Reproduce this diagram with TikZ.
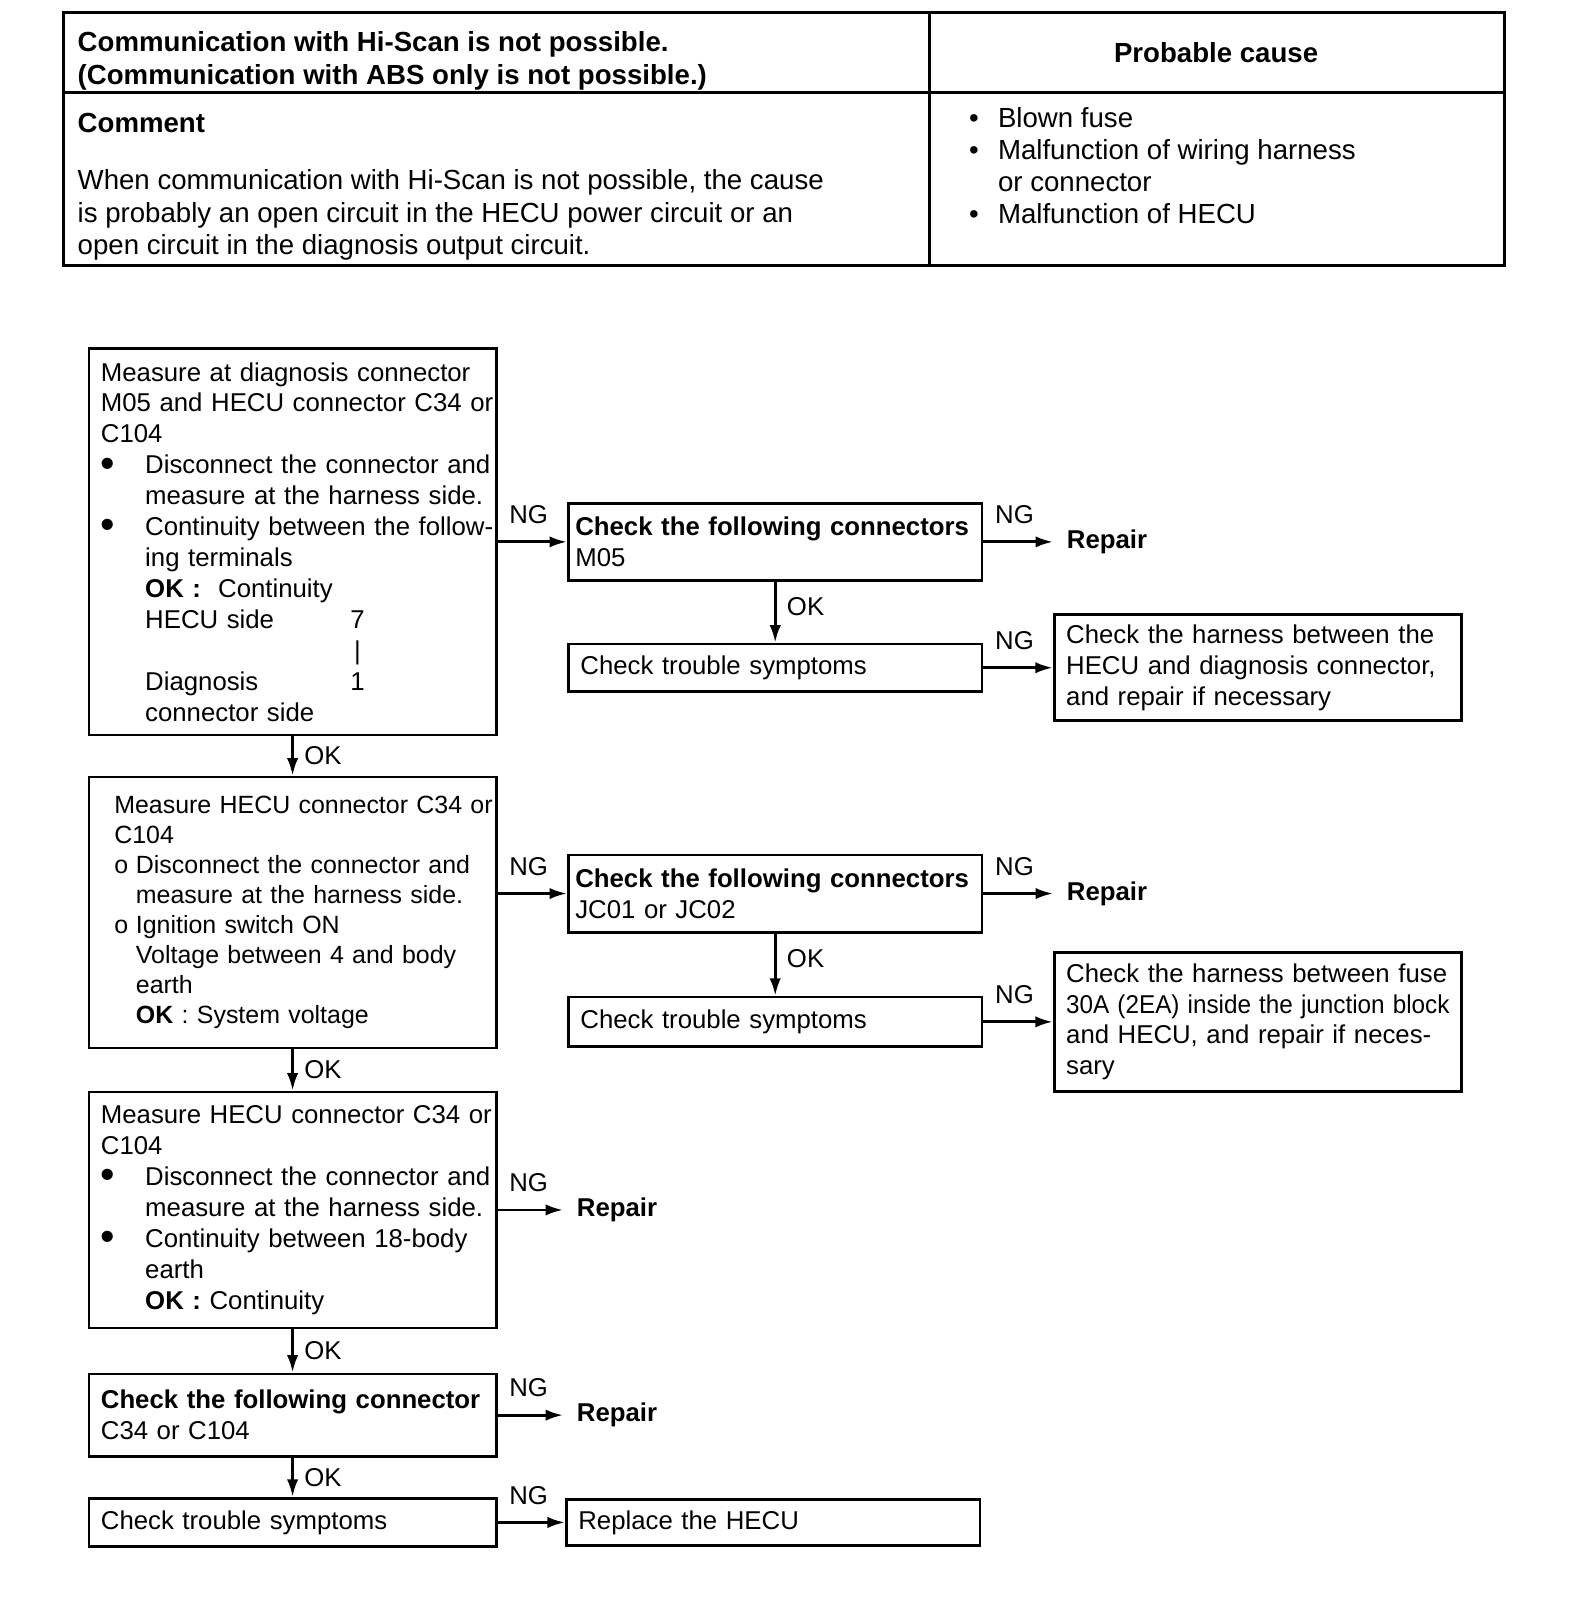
\documentclass[tikz,border=0pt]{standalone}
\usepackage{fontspec}
\setmainfont{Liberation Sans}
\usetikzlibrary{arrows.meta,positioning}

\newcommand{\flowfont}{\fontsize{12.5pt}{15pt}\selectfont}
\newcommand{\smallflow}{\fontsize{12.1pt}{14.6pt}\selectfont}
\newcommand{\tabfont}{\fontsize{13.4pt}{15.6pt}\selectfont}
\newlength{\bind}\setlength{\bind}{21.5pt}
\newcommand{\bigdot}{\raisebox{-1.6pt}{\smash{\scalebox{1.6}{\textbullet}}}}
\newcommand{\jl}[1]{\makebox[\linewidth][s]{#1}}
\newcommand{\ind}[1]{\hspace*{\bind}#1}
\newcommand{\bjl}[1]{\makebox[\bind][l]{\bigdot}\makebox[\dimexpr\linewidth-\bind\relax][s]{#1}}
\newcommand{\fitto}[2]{\resizebox{#1}{\height}{#2}}

\begin{document}
\begin{tikzpicture}[x=0.5pt,y=-0.5pt,
        every node/.style={font=\flowfont},
        box/.style={draw,line width=1.3pt,rectangle,align=left,inner ysep=0pt},
        lbox/.style={box,inner xsep=5.8pt,text width=186pt,minimum height=#1},
        mbox/.style={box,inner xsep=3.35pt,text width=194pt,minimum height=#1},
        tbox/.style={box,inner xsep=5.85pt,text width=189pt,minimum height=#1},
        rep/.style={font=\flowfont\bfseries,inner xsep=6.5pt},
        flow/.style={-{Latex[length=8.5pt,width=5.5pt]},line width=1.4pt},
        ng/.style={pos=0,anchor=south west,inner sep=0pt,xshift=5pt,yshift=8pt},
        ok/.style={midway,anchor=west,inner sep=1pt,xshift=4pt},
        tabtext/.style={font=\tabfont,align=left,inner sep=0pt}]

        % table at the top
        \draw[line width=1.4pt] (62,12) rectangle (1460,258);
        \draw[line width=1.4pt] (902,12) -- (902,258) (62,90) -- (1460,90);
        \node[tabtext,font=\tabfont\bfseries,anchor=north west] (title) at (75,30.5)
            {Communication with Hi-Scan is not possible.\\(Communication with ABS only is not possible.)};
        \node[tabtext,font=\tabfont\bfseries,anchor=north] (cause) at (1180,40.5) {Probable cause};
        \node[tabtext,font=\tabfont\bfseries,anchor=north west] (comment) at (75,109.5) {Comment};
        \node[tabtext,anchor=north west] (para) at (75,164.5)
            {When communication with Hi-Scan is not possible, the cause\\
             is probably an open circuit in the HECU power circuit or an\\
             open circuit in the diagnosis output circuit.};
        \node[tabtext,anchor=north west] (causes) at (940,103.5)
            {\makebox[14pt][l]{\textbullet}Blown fuse\\
             \makebox[14pt][l]{\textbullet}Malfunction of wiring harness\\
             \hspace*{14pt}or connector\\
             \makebox[14pt][l]{\textbullet}Malfunction of HECU};

        % flow chart
        \node[lbox=187.5pt,anchor=north west] (meas1) at (85,337)
            {\jl{Measure at diagnosis connector}\\
             \jl{M05 and HECU connector C34 or}\\
             C104\\
             \bjl{Disconnect the connector and}\\
             \ind{measure at the harness side.}\\
             \bjl{Continuity between the follow-}\\
             \ind{ing terminals}\\
             \ind{\textbf{OK :}\ \ Continuity}\\
             \ind{\makebox[99.5pt][l]{HECU side}7}\\
             \ind{\hspace*{99.5pt}\makebox[6.95pt]{|}}\\
             \ind{\makebox[99.5pt][l]{Diagnosis}1}\\
             \ind{connector side}};
        \node[mbox=37.5pt] (conn1) [right=33.7pt of meas1]
            {\textbf{Check the following connectors}\\M05};
        \node[tbox=23pt] (sym1) [below=29.5pt of conn1] {Check trouble symptoms};
        \node[lbox=51.5pt] (harn1) [right=33.7pt of sym1]
            {\jl{Check the harness between the}\\
             \jl{HECU and diagnosis connector,}\\
             and repair if necessary};
        \node[rep] (rep1) [right=33.8pt of conn1] {Repair};

        \node[box,inner xsep=12.3pt,text width=173pt,minimum height=131.5pt,font=\smallflow] (meas2) [below=19pt of meas1]
            {\mbox{Measure HECU connector C34 or}\\
             C104\\
             \makebox[10.5pt][l]{o}Disconnect the connector and\\
             \hspace*{10.5pt}measure at the harness side.\\
             \makebox[10.5pt][l]{o}Ignition switch ON\\
             \hspace*{10.5pt}Voltage between 4 and body\\
             \hspace*{10.5pt}earth\\
             \hspace*{10.5pt}\textbf{OK} : System voltage};
        \node[mbox=37.5pt] (conn2) [below=78pt of sym1]
            {\textbf{Check the following connectors}\\JC01 or JC02};
        \node[tbox=24pt] (sym2) [below=30.2pt of conn2] {Check trouble symptoms};
        \node[lbox=67.5pt] (harn2) [right=33.7pt of sym2]
            {\jl{Check the harness between fuse}\\
             \fitto{\linewidth}{30A (2EA) inside the junction block}\\
             \jl{and HECU, and repair if neces-}\\
             sary};
        \node[rep] (rep2) [right=33.8pt of conn2] {Repair};

        \node[lbox=114.5pt] (meas3) [below=20pt of meas2]
            {\jl{Measure HECU connector C34 or}\\
             C104\\
             \bjl{Disconnect the connector and}\\
             \ind{measure at the harness side.}\\
             \bjl{Continuity between 18-body}\\
             \ind{earth}\\
             \ind{\textbf{OK :} Continuity}};
        \node[rep] (rep3) [right=31.8pt of meas3] {Repair};
        \node[lbox=40pt] (conn3) [below=21pt of meas3]
            {\textbf{Check the following connector}\\C34 or C104};
        \node[rep] (rep4) [right=31.8pt of conn3] {Repair};
        \node[lbox=23.5pt] (sym3) [below=19pt of conn3] {Check trouble symptoms};
        \node[tbox=22.5pt] (hecu) [right=32.7pt of sym3] {Replace the HECU};

        % connectors
        \draw[flow] (meas1.east |- conn1) -- node[ng] {NG} (conn1);
        \draw[flow] (conn1) -- node[ng] {NG} (rep1);
        \draw[flow] (conn1) -- node[ok,pos=0.4] {OK} (sym1);
        \draw[flow] (sym1.east) -- node[ng] {NG} (sym1.east -| harn1.west);
        \draw[flow] (meas1) -- node[ok] {OK} (meas2);
        \draw[flow] (meas2.east |- conn2) -- node[ng] {NG} (conn2);
        \draw[flow] (conn2) -- node[ng] {NG} (rep2);
        \draw[flow] (conn2) -- node[ok,pos=0.4] {OK} (sym2);
        \draw[flow] (sym2) -- node[ng] {NG} (harn2);
        \draw[flow] (meas2) -- node[ok] {OK} (meas3);
        \draw[flow] (meas3) -- node[ng] {NG} (rep3);
        \draw[flow] (meas3) -- node[ok] {OK} (conn3);
        \draw[flow] (conn3) -- node[ng] {NG} (rep4);
        \draw[flow] (conn3) -- node[ok] {OK} (sym3);
        \draw[flow] (sym3) -- node[ng] {NG} (hecu);

        \useasboundingbox (0,0) rectangle (1536,1568);
\end{tikzpicture}
\end{document}
